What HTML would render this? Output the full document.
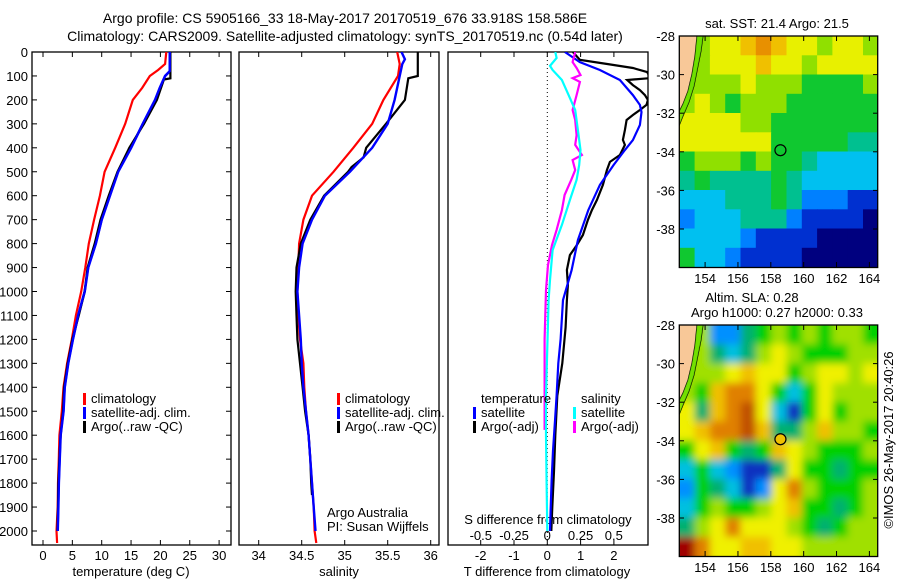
<!DOCTYPE html>
<html><head><meta charset="utf-8"><style>
html,body{margin:0;padding:0;background:#fff;}
svg{display:block;font-family:"Liberation Sans",sans-serif;}
text{fill:#000;}
</style></head><body>
<svg id="fig" width="900" height="580" viewBox="0 0 900 580" xmlns="http://www.w3.org/2000/svg">
<defs>
<clipPath id="c1"><rect x="32" y="52" width="199" height="493"/></clipPath>
<clipPath id="c2"><rect x="239" y="52" width="200" height="493"/></clipPath>
<clipPath id="c3"><rect x="448" y="52" width="200" height="493"/></clipPath>
<clipPath id="cm1"><rect x="679" y="36" width="199" height="231"/></clipPath>
<clipPath id="cm2"><rect x="679" y="325" width="199" height="232"/></clipPath>
<filter id="blur" x="-5%" y="-5%" width="110%" height="110%"><feGaussianBlur stdDeviation="4"/></filter>
</defs>
<text x="345" y="23" font-size="14" text-anchor="middle">Argo profile: CS 5905166_33 18-May-2017 20170519_676 33.918S 158.586E</text>
<text x="345" y="41" font-size="14" text-anchor="middle">Climatology: CARS2009. Satellite-adjusted climatology: synTS_20170519.nc (0.54d later)</text>
<g id="g"></g>
</svg>
<script>
// ---------- Temperature panel data ----------
const tClimDepth = [0,50,75,100,150,200,300,400,500,600,700,800,900,1000,1100,1200,1300,1400,1500,1600,1700,1800,1900,2000,2050];
const tClim = [21.0,20.8,19.6,18.2,16.9,15.3,14.0,12.3,10.5,9.7,8.7,7.8,7.2,6.5,5.6,4.9,4.1,3.5,3.2,2.8,2.7,2.55,2.5,2.3,2.4];
const tSatDepth = [0,80,100,150,200,300,400,500,600,700,800,900,1000,1100,1200,1300,1400,1500,1600,1700,1800,1900,2000];
const tSat = [21.6,21.6,20.8,19.9,19.1,17.0,15.0,12.8,11.4,10.0,9.0,7.7,7.1,6.0,5.1,4.3,3.7,3.5,3.0,2.85,2.7,2.6,2.5];
const tArgoDepth = [0,110,115,200,300,400,500,600,700,800,900,1000,1100,1200,1300,1400,1500,1600,1700,1800,1900,2000];
const tArgo = [21.7,21.7,20.6,19.4,17.2,14.7,12.7,11.2,9.8,8.8,7.6,7.1,6.1,5.0,4.2,3.6,3.4,3.0,2.8,2.6,2.55,2.45];
const tTicks = [0,5,10,15,20,25,30];
// ---------- Salinity panel data ----------
const sClimDepth = [0,50,100,200,300,400,500,600,700,800,900,1000,1100,1200,1300,1400,1500,1600,1700,1800,1900,2000,2050];
const sClim = [35.61,35.64,35.62,35.45,35.32,35.10,34.87,34.62,34.52,34.47,34.46,34.45,34.46,34.48,34.52,34.53,34.55,34.58,34.60,34.62,34.64,34.65,34.67];
const sSatDepth = [0,30,50,100,200,300,400,500,600,700,800,900,1000,1100,1200,1300,1400,1500,1600,1700,1800,1900,2000];
const sSat = [35.66,35.70,35.67,35.64,35.58,35.50,35.32,35.06,34.77,34.62,34.51,34.47,34.45,34.47,34.49,34.50,34.52,34.55,34.58,34.60,34.62,34.64,34.66];
const sArgoDepth = [0,100,110,200,300,400,440,480,500,600,700,800,900,1000,1100,1200,1300,1400,1500,1600,1700,1800,1850];
const sArgo = [35.85,35.85,35.74,35.70,35.48,35.25,35.22,35.08,35.04,34.76,34.60,34.49,34.44,34.43,34.44,34.45,34.48,34.51,34.54,34.58,34.60,34.61,34.62];
const sTicks = [34,34.5,35,35.5,36];
// ---------- Difference panel data ----------
const dTSatDepth = [0,42,75,117,180,221,251,305,368,409,472,555,660,785,911,1036,1200,1300,1435,1540,1665,1791,1916,2000];
const dTSat = [0.53,0.98,1.58,2.18,2.57,2.78,2.83,2.78,2.57,2.33,1.99,1.58,1.23,0.92,0.73,0.47,0.40,0.33,0.28,0.23,0.17,0.13,0.10,0.08];
const dTArgoDepth = [0,33,50,67,84,109,117,138,159,180,200,221,242,263,284,326,367,388,430,459,493,555,618,660,701,764,806,848,910,973,1035,1150,1300,1435,1600,1750,1900,2000];
const dTArgo = [0.77,0.98,1.8,2.57,3.0,3.1,2.4,2.57,2.78,2.93,3.02,2.98,2.78,2.57,2.38,2.33,2.27,2.33,2.18,1.88,1.79,1.67,1.49,1.34,1.22,1.07,0.89,0.68,0.59,0.62,0.59,0.55,0.45,0.30,0.24,0.20,0.15,0.12];
const dSSatDepth = [0,25,58,75,117,180,242,326,409,472,534,618,722,827,952,1035,1435,1600,1800,2000];
const dSSat = [0.06,0.07,0.02,0.04,0.11,0.16,0.21,0.23,0.25,0.24,0.22,0.17,0.11,0.04,0.02,0.01,-0.01,-0.01,-0.005,0.0];
const dSArgoDepth = [0,42,67,96,109,125,180,242,284,347,388,430,451,493,534,597,660,743,806,889,994,1200,1435,1578];
const dSArgo = [0.21,0.19,0.22,0.25,0.19,0.245,0.22,0.19,0.21,0.22,0.21,0.26,0.19,0.21,0.18,0.13,0.11,0.07,0.035,0.005,-0.01,-0.02,-0.02,-0.02];
const dTTicks = [-2,-1,0,1,2];
const dSTicks = [-0.5,-0.25,0,0.25,0.5];
const dSTickLabels = ['-0.5','-0.25','0','0.25','0.5'];
const depthTicks = [0,100,200,300,400,500,600,700,800,900,1000,1100,1200,1300,1400,1500,1600,1700,1800,1900,2000];
// ---------- Map data ----------
const latTicks = [-28,-30,-32,-34,-36,-38];
const lonTicks = [154,156,158,160,162,164];
const argoLon = 158.586, argoLat = -33.918;
const sstPalette = ['#00007f','#0030d0','#0080ff','#00c0f0','#00c090','#10c830','#90e000','#e8f000','#f0c000','#e89000'];
const sstGrid = [
[6,6,7,7,8,9,8,7,7,6,7,7,6],
[6,6,7,7,7,8,7,7,6,7,7,7,7],
[6,6,6,6,7,6,6,6,5,5,5,5,6],
[6,7,6,5,6,6,6,5,5,5,5,5,5],
[7,7,7,7,6,6,5,5,5,5,5,5,5],
[7,7,7,7,7,7,5,5,5,5,5,4,4],
[5,6,6,6,5,6,5,5,4,3,3,3,3],
[4,5,4,4,4,4,5,4,3,3,3,3,3],
[3,3,3,4,4,4,5,4,2,2,2,1,1],
[2,3,3,3,4,4,4,2,1,1,1,1,0],
[3,3,3,3,2,1,1,1,1,0,0,0,0],
[5,3,3,2,1,1,1,1,0,0,0,0,0]];
const slaPalette = ['#1030c0','#0090ff','#00c0e0','#00b070','#00d000','#a0e000','#f0f000','#f0c000','#e08000','#c05000','#a00000'];
const slaGrid = [
[5,5,1,1,3,4,5,4,5,4,5,5,4],
[5,5,3,2,3,5,6,5,4,4,4,5,5],
[5,5,5,6,7,6,6,4,5,6,6,5,6],
[5,4,7,8,8,6,4,2,4,6,5,5,5],
[6,3,7,8,9,6,2,0,4,6,4,5,5],
[6,7,8,8,9,7,3,3,5,7,5,5,4],
[4,6,7,4,3,4,7,6,5,4,4,4,5],
[2,4,2,1,0,0,3,6,4,4,3,4,4],
[1,4,3,2,0,1,6,8,5,4,4,4,5],
[2,4,5,4,4,5,6,7,4,4,3,4,5],
[3,5,6,8,6,6,6,5,4,3,4,5,5],
[10,8,6,6,7,7,6,6,5,5,5,5,5]];

const NS='http://www.w3.org/2000/svg';
const G=document.getElementById('g');
function el(tag,attrs,parent,txt){const e=document.createElementNS(NS,tag);for(const k in attrs)e.setAttribute(k,attrs[k]);if(txt!==undefined)e.textContent=txt;(parent||G).appendChild(e);return e;}
const yD = d => 52 + d*0.2395;
const xT = v => 43 + v*5.87;
const xS = v => 258.7 + (v-34)*86;
const xDT = v => 547.3 + v*33.3;
const xDS = v => 547.3 + v*133;

function line(xs,ds,fx,color,clip,name,w){
  const pts = xs.map((v,i)=>fx(v).toFixed(1)+','+yD(ds[i]).toFixed(1)).join(' ');
  const p = el('polyline',{points:pts,fill:'none',stroke:color,'stroke-width':w||2.2,'clip-path':'url(#'+clip+')'});
  
  
}
function frame(x,w,name){
  const r = el('rect',{x:x,y:52,width:w,height:493,fill:'none',stroke:'#000','stroke-width':1.3});
  
  
}
// Panel 1
frame(32,199,'temperature-panel-frame');
depthTicks.forEach(d=>{
  el('line',{x1:32,x2:37,y1:yD(d),y2:yD(d),stroke:'#000'});
  el('line',{x1:226,x2:231,y1:yD(d),y2:yD(d),stroke:'#000'});
  const t = el('text',{x:28,y:yD(d)+5,'font-size':13,'text-anchor':'end'},G,String(d));
  
  
});
tTicks.forEach(v=>{
  el('line',{x1:xT(v),x2:xT(v),y1:545,y2:540,stroke:'#000'});
  el('line',{x1:xT(v),x2:xT(v),y1:52,y2:57,stroke:'#000'});
  const t = el('text',{x:xT(v),y:560,'font-size':13,'text-anchor':'middle'},G,String(v));
  
  
});
const xl1 = el('text',{x:131,y:576,'font-size':13,'text-anchor':'middle'},G,'temperature (deg C)');


line(tClim,tClimDepth,xT,'#ff0000','c1','temperature-climatology-line');
line(tSat,tSatDepth,xT,'#0000ff','c1','temperature-satellite-line',2.6);
line(tArgo,tArgoDepth,xT,'#000000','c1','temperature-argo-line');
line(tSat,tSatDepth,xT,'#0000ff','c1','temperature-satellite-line-top',2.2);

// Panel 2
frame(239,200,'salinity-panel-frame');
sTicks.forEach(v=>{
  el('line',{x1:xS(v),x2:xS(v),y1:545,y2:540,stroke:'#000'});
  el('line',{x1:xS(v),x2:xS(v),y1:52,y2:57,stroke:'#000'});
  const t = el('text',{x:xS(v),y:560,'font-size':13,'text-anchor':'middle'},G,String(v));
  
  
});
const xl2 = el('text',{x:339,y:576,'font-size':13,'text-anchor':'middle'},G,'salinity');


line(sClim,sClimDepth,xS,'#ff0000','c2','salinity-climatology-line');
line(sArgo,sArgoDepth,xS,'#000000','c2','salinity-argo-line');
line(sSat,sSatDepth,xS,'#0000ff','c2','salinity-satellite-line',2.4);

// Panel 3
frame(448,200,'difference-panel-frame');
el('line',{x1:547.3,x2:547.3,y1:52,y2:545,stroke:'#000','stroke-dasharray':'1,3'});
dTTicks.forEach(v=>{
  el('line',{x1:xDT(v),x2:xDT(v),y1:545,y2:540,stroke:'#000'});
  el('line',{x1:xDT(v),x2:xDT(v),y1:52,y2:57,stroke:'#000'});
  const t = el('text',{x:xDT(v),y:560,'font-size':13,'text-anchor':'middle'},G,String(v));
  
  
});
dSTicks.forEach((v,i)=>{
  const t = el('text',{x:xDS(v),y:540,'font-size':13,'text-anchor':'middle'},G,dSTickLabels[i]);
  
  
});
const sdt = el('text',{x:548,y:524,'font-size':13,'text-anchor':'middle'},G,'S difference from climatology');


const xl3 = el('text',{x:547,y:576,'font-size':13,'text-anchor':'middle'},G,'T difference from climatology');


line(dTArgo,dTArgoDepth,xDT,'#000000','c3','t-difference-argo-line');
line(dTSat,dTSatDepth,xDT,'#0000ff','c3','t-difference-satellite-line');
line(dSArgo,dSArgoDepth,xDS,'#ff00ff','c3','s-difference-argo-line');
line(dSSat,dSSatDepth,xDS,'#00ffff','c3','s-difference-satellite-line');

// Legends
function legend(x,y,color,label,name){
  const r = el('rect',{x:x,y:y-10,width:3,height:12,fill:color});
  
  
  const t = el('text',{x:x+8,y:y,'font-size':13},G,label);
  
  
}
legend(83,403,'#ff0000','climatology','legend-climatology');
legend(83,417,'#0000ff','satellite-adj. clim.','legend-satellite-adj');
legend(83,431,'#000000','Argo(..raw -QC)','legend-argo');
legend(337,403,'#ff0000','climatology','legend-climatology-2');
legend(337,417,'#0000ff','satellite-adj. clim.','legend-satellite-adj-2');
legend(337,431,'#000000','Argo(..raw -QC)','legend-argo-2');
const lt = el('text',{x:481,y:403,'font-size':13},G,'temperature');


const ls = el('text',{x:581,y:403,'font-size':13},G,'salinity');


legend(473,417,'#0000ff','satellite','legend-t-satellite');
legend(473,431,'#000000','Argo(-adj)','legend-t-argo');
legend(573,417,'#00ffff','satellite','legend-s-satellite');
legend(573,431,'#ff00ff','Argo(-adj)','legend-s-argo');
const a1 = el('text',{x:327,y:517,'font-size':13},G,'Argo Australia');


const a2 = el('text',{x:327,y:531,'font-size':13},G,'PI: Susan Wijffels');



// Maps
function map(top,grid,pal,clip,name,blur){
  const lonX = lon => 679.3 + (lon-152.43)*16.43;
  const latY = lat => top + (-28-lat)*19.3;
  const g = el('g',{'clip-path':'url(#'+clip+')'});
  
  
  const inner = el('g',blur?{filter:'url(#blur)'}:{},g);
  const cw = 199/13, ch = 231/12;
  grid.forEach((row,r)=>row.forEach((v,c)=>{
    const cell = el('rect',{x:(679.3+c*cw-(blur&&c==0?8:0)).toFixed(1),y:(top+r*ch-(blur&&r==0?8:0)).toFixed(1),width:(cw+0.6+(blur&&(c==0||c==12)?8:0)).toFixed(1),height:(ch+0.6+(blur&&(r==0||r==11)?8:0)).toFixed(1),fill:pal[v]},inner);
    
    
  }));
  // land
  const land = el('polygon',{points:`679,${top} 697,${top} 695,${top+20} 692,${top+38} 688,${top+55} 683,${top+68} 679,${top+76}`,fill:'#f8c898',stroke:'#000','stroke-width':1},g);
  
  
  el('polyline',{points:`703,${top} 701,${top+15} 698,${top+30} 694,${top+50} 689,${top+66} 683,${top+80} 679,${top+90}`,fill:'none',stroke:'#000','stroke-width':1},g);
  el('polygon',{points:`697,${top} 703,${top} 701,${top+15} 698,${top+30} 694,${top+50} 689,${top+66} 683,${top+80} 679,${top+90} 679,${top+76} 683,${top+68} 688,${top+55} 692,${top+38} 695,${top+20}`,fill:'#60e000',opacity:0.7},g);
  const f = el('rect',{x:679.3,y:top,width:198.4,height:231.5,fill:'none',stroke:'#000','stroke-width':1.3});
  
  
  const c = el('circle',{cx:lonX(argoLon),cy:latY(argoLat),r:5.5,fill:blur?'#f0c000':'none',stroke:'#000','stroke-width':1.2});
  
  
  latTicks.forEach(l=>{
    el('line',{x1:679,x2:684,y1:latY(l),y2:latY(l),stroke:'#000'});
    el('line',{x1:873,x2:878,y1:latY(l),y2:latY(l),stroke:'#000'});
    const t = el('text',{x:675,y:latY(l)+5,'font-size':13,'text-anchor':'end'},G,String(l));
    
    
  });
  lonTicks.forEach(l=>{
    el('line',{x1:lonX(l),x2:lonX(l),y1:top,y2:top+5,stroke:'#000'});
    el('line',{x1:lonX(l),x2:lonX(l),y1:top+231,y2:top+226,stroke:'#000'});
    const t = el('text',{x:lonX(l),y:top+247,'font-size':13,'text-anchor':'middle'},G,String(l));
    
    
  });
}
map(36,sstGrid,sstPalette,'cm1','sst-map',false);
map(325,slaGrid,slaPalette,'cm2','sla-map',true);
const m1 = el('text',{x:777,y:28,'font-size':13,'text-anchor':'middle'},G,'sat. SST: 21.4 Argo: 21.5');


const m2 = el('text',{x:752,y:302,'font-size':13,'text-anchor':'middle'},G,'Altim. SLA: 0.28');


const m3 = el('text',{x:777,y:317,'font-size':13,'text-anchor':'middle'},G,'Argo h1000: 0.27 h2000: 0.33');


const cr = el('text',{x:0,y:0,'font-size':13,'text-anchor':'middle',transform:'translate(893,440) rotate(-90)'},G,'©IMOS 26-May-2017 20:40:26');


</script>
</body></html>
